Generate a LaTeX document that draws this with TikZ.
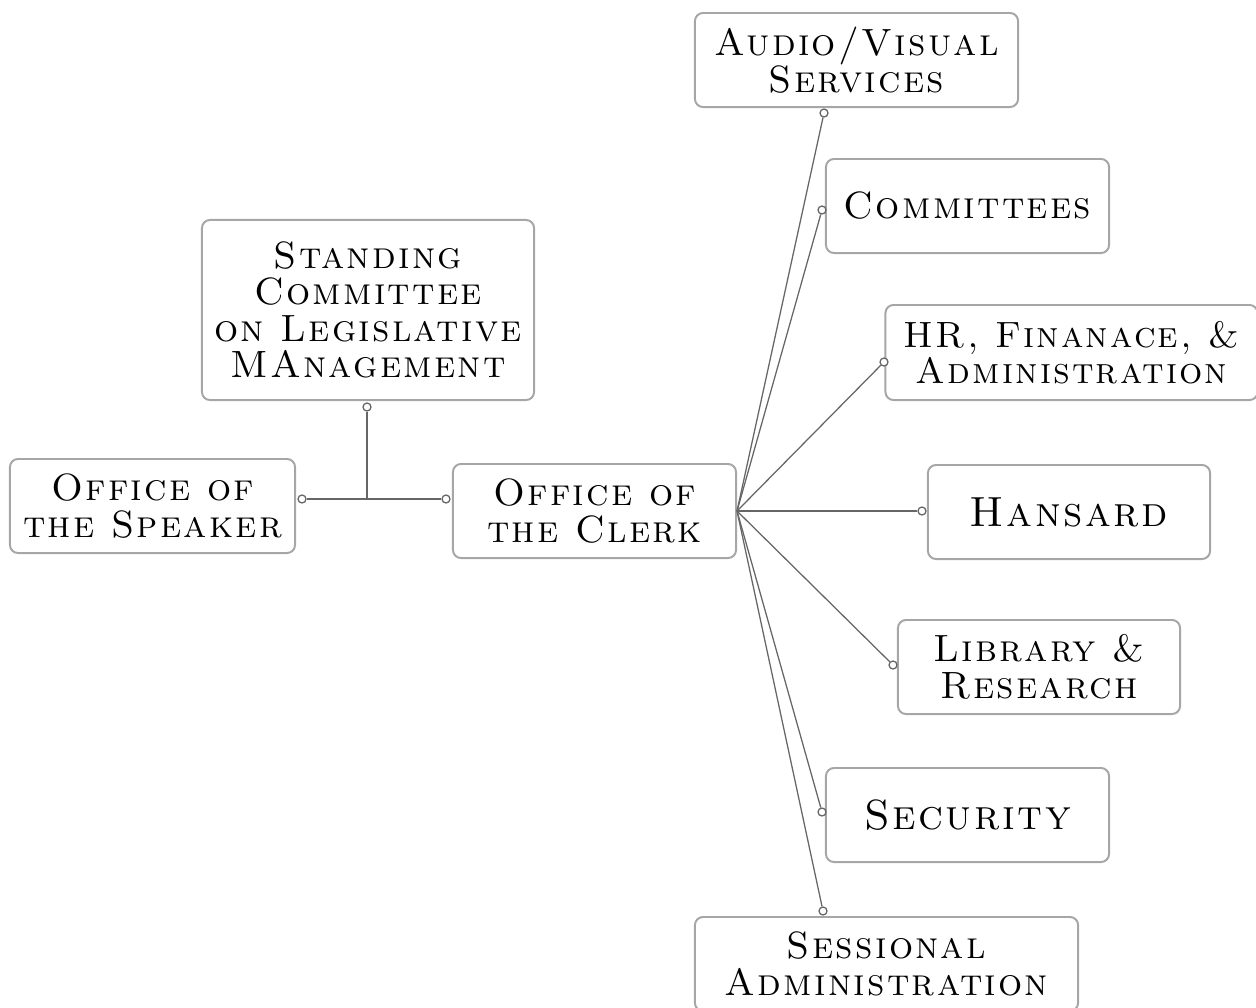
\documentclass[tikz,border=0pt]{standalone}
\usepackage{fontspec}
\setmainfont{Latin Modern Roman}[LetterSpace=6, SmallCapsFont={Latin Modern Roman Caps}, SmallCapsFeatures={LetterSpace=6}]
\tikzset{
  box/.style={draw=black!35, line width=1.4pt, rounded corners=0.2cm, fill=white,
    minimum width=7.075cm, minimum height=2.35cm, align=center, inner sep=2pt,
    font=\fontsize{27}{26}\selectfont\scshape},
  bigbox/.style={box, font=\fontsize{30}{28}\selectfont\scshape},
  dot/.style={circle, draw=black!60, fill=white, line width=0.9pt, inner sep=0pt, minimum size=0.2cm},
  link/.style={draw=black!60, line width=0.9pt},
  hlink/.style={draw=black!60, line width=1.4pt}
}
\begin{document}
\begin{tikzpicture}[x=0.025cm,y=-0.025cm]
        \useasboundingbox (0,0) rectangle (1256,1007);
        \node[box, minimum width=8.075cm] (av) at (856.5,60) {Audio/Visual\\Services};
        \node[box] (com) at (967.5,206) {Committees};
        \node[box, minimum width=9.3cm, minimum height=2.375cm, font=\fontsize{26}{26}\selectfont\scshape] (hr) at (1071.5,352.5) {HR, Finanace, \&\\Administration};
        \node[bigbox, minimum width=7.05cm] (han) at (1069,512) {Hansard};
        \node[box, minimum width=7.05cm] (lib) at (1039,667) {Library \&\\Research};
        \node[bigbox] (sec) at (967.5,815) {Security};
        \node[box, minimum width=9.575cm] (ses) at (886.5,964) {Sessional\\Administration};
        \node[box] (clerk) at (594.5,511) {Office of\\the Clerk};
        \node[box, minimum width=7.125cm] (spk) at (152.5,506) {Office of\\the Speaker};
        \node[box, minimum width=8.3cm, minimum height=4.5cm] (stand) at (368,310) {Standing\\Committee\\on Legislative\\MAnagement};
        \node[dot] (pav) at (824,113) {};
        \node[dot] (pcom) at (822,210) {};
        \node[dot] (phr) at (884,362) {};
        \node[dot] (phan) at (922,511) {};
        \node[dot] (plib) at (893,665) {};
        \node[dot] (psec) at (822,812) {};
        \node[dot] (pses) at (823,911) {};
        \node[dot] (pspk) at (302,499) {};
        \node[dot] (pclerk) at (446,499) {};
        \node[dot] (pstand) at (367,407) {};
        \coordinate (j) at (367,499);
        \foreach \p in {pav,pcom,phr,phan,plib,psec,pses}
          \draw[link] (clerk.east) -- (\p);
        \draw[hlink] (pspk) -- (pclerk);
        \draw[hlink] (pstand) -- (j);
    \end{tikzpicture}
\end{document}
